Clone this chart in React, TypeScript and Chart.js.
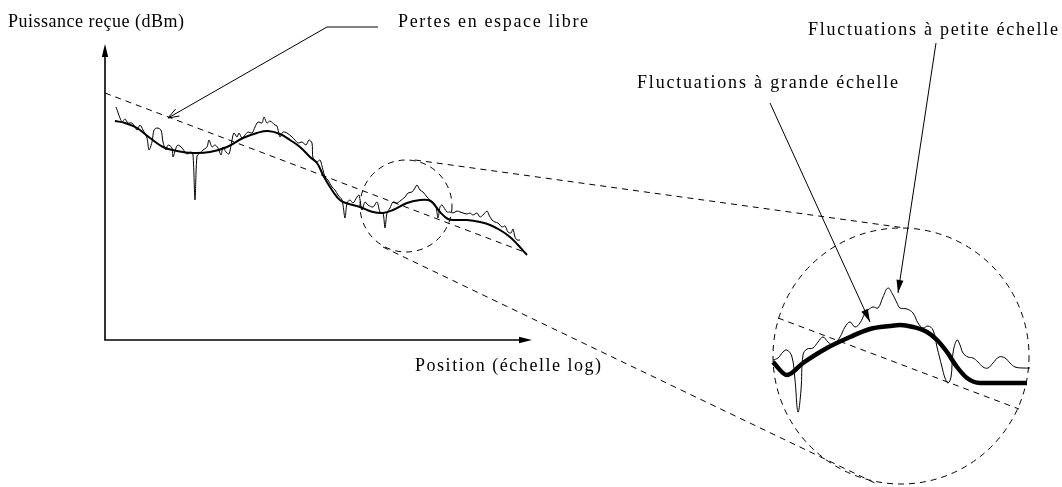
import React, { useEffect, useRef } from "react";
import { Chart, registerables } from "chart.js";

Chart.register(...registerables);

// ---- Main trace: position (log scale units) vs received power (dBm) ----
const fastPos = [2.75,4.25,5,5.75,6.75,7.5,8,8.75,9.5,10.5,11,11.75,12.25,13,14,14.5,15.25,15.75,16.75,17,17.75,18.25,19.25,20,20.5,21.5,22,22.5,23,23.75,24.5,25.5,26,26.75,27.5,28.25,29,29.5,30.25,31,31.75,32.25,33,33.5,34.25,35,35.75,36.75,37.5,38.25,39.25,39.75,40.5,41.25,42.5,43,43.75,44.5,45.5,46.75,47.5,48.25,49.25,50.25,51,51.75,52,53,53.75,54.5,55,55.75,56.75,57.5,58.25,59.25,60,60.5,61.25,62,63,63.5,64.25,65,65.75,67,68,68.75,69.5,70,70.5,71.25,72,73,73.75,75,75.75,76.75,77.5,78,78.75,79.5,80.5,81.25,82,82.75,83.25,83.75,84.25,85.5,86.25,87,88,88.75,89.5,90.5,91.25,92,93,93.75,94.5,95.5,96,96.75,97.5,98.25,99.25,100,100.75,101.5,102,102.5,103,103.75];
const fastPower = [-46.75,-50.5,-49.75,-50.75,-50.75,-51.75,-52.5,-51.25,-52.5,-54.5,-57.5,-55.5,-52.5,-52,-52.5,-55.5,-57.5,-56.25,-57,-59.25,-57,-56.25,-57,-58,-58.5,-58,-58.75,-70,-59,-58.25,-57.5,-56.75,-55,-56.75,-56.25,-57,-58.75,-56.75,-58,-58.5,-55,-53.25,-54.25,-53.25,-54.5,-53.75,-53,-53.25,-51.75,-50.5,-50.75,-49.25,-50.75,-50.25,-51.25,-51.5,-54.25,-53,-53.25,-54.25,-55,-55.75,-55.5,-56.25,-55,-55.75,-59.5,-60.5,-60,-62.5,-64.25,-65,-66.75,-67.5,-68.75,-70,-74.5,-70.75,-70,-70.75,-69.25,-68.75,-72.5,-70.5,-71.25,-71.75,-70.5,-73,-73.25,-77,-73.25,-72,-70.5,-70.75,-70.25,-69.25,-68.25,-68,-67,-66.25,-67.5,-68,-69.25,-70,-70.5,-71.75,-74.5,-71.75,-71.25,-73,-73,-73.25,-72.75,-73,-73.25,-73.5,-73.25,-73.75,-73.25,-74.25,-73.75,-72.75,-73.75,-75,-75.5,-75.75,-76.75,-76.5,-78,-78.25,-77.25,-79.25,-80,-80];

const slowPos = [2.5,5,8,11.25,14.5,18,22,26.25,30.5,34.5,38,40.75,43.75,46.25,48.75,51.25,53,54.5,56.25,58,59.5,63.75,67,69.5,72,75.5,78.75,80.75,82,83.75,85.75,87.5,90.5,93.75,96.25,98.75,101.25,103.25,105.5];
const slowPower = [-50.25,-50.75,-52,-54.5,-56.75,-57.75,-58.25,-58,-56.75,-54.5,-53.25,-52.75,-53.5,-55,-56.75,-59.25,-60.75,-63.75,-66.75,-69.25,-70.5,-71.75,-73,-73.25,-72.5,-70.75,-70,-70,-70.75,-73,-74.75,-75,-75,-75.5,-76.25,-77.5,-79.25,-81.25,-83.75];

const freeSpacePos = [0, 105.5];
const freeSpacePower = [-43.25, -83.25];

// ---- Zoomed view (inset) ----
const zoomFastPos = [0.25,1.5,2.75,3.75,5,5.75,6.5,7.25,7.75,8.75,10.25,11.5,12.75,14,15.25,17,18.25,19.5,20.75,22,23.25,24,25.25,26.5,27.75,29,30.25,31.25,32,33.75,35.25,36.5,37.75,39,40.25,41.25,42.5,43.25,44,44.75,45.25,46.25,47,47.75,49,50.25,51.5,52.75,54,55.25,56.75,58.25,59.5,60.75,62.75,64.5];
const zoomFastPower = [-110,-109.5,-108,-107.5,-109.25,-115,-123,-117.5,-108.75,-107.25,-107,-105.5,-104.25,-105.5,-106.25,-104.25,-101.75,-100.5,-101.75,-100.75,-98.25,-97.5,-96.75,-97,-94.25,-92,-93.75,-95.75,-97,-97.25,-98.25,-100.75,-102,-101.5,-102.5,-106.75,-111.75,-114.5,-115.75,-114.25,-108.25,-105,-106.25,-108.25,-109.25,-109.5,-110.5,-111.75,-112,-110.75,-109.25,-109.5,-110.75,-111.75,-112,-112];

const zoomSlowPos = [0.25,3.75,7.75,13.75,19.5,24.5,29.5,32,35.25,38.75,41.25,43.75,46.25,48.75,52,57,63.75];
const zoomSlowPower = [-110.5,-113.75,-110.75,-107,-104.25,-102.25,-101.5,-101.25,-101.75,-103,-105,-108,-111.75,-114.5,-115.75,-115.75,-115.75];

const zoomFreePos = [1.5, 61.75];
const zoomFreePower = [-99.5, -122.25];

// ---- Annotation geometry (in the same data units) ----
const axisOrigin = [0, -105];
const axisYTop = [0, -31];
const axisXEnd = [106.75, -105];
const mainLens = [75.25, -71.5, 11.5];
const zoomLens = [32.25, -109, 32];
const connectUpper = [[77.5, -60], [33.25, -77]];
const connectLower = [[69.5, -81.75], [26.25, -141]];
const leaderFreeSpace = [[68.25, -26.75], [55.5, -26.75], [15.75, -49.5]];
const leaderLarge = [[-0.5, -45.75], [24.5, -100.5]];
const leaderSmall = [[41, -30.75], [31.5, -93.25]];

// labels: text, scale ("main" | "zoom"), anchor, target width (px)
const labelTexts = [
  "Puissance reçue (dBm)",
  "Pertes en espace libre",
  "Position (échelle log)",
  "Fluctuations à grande échelle",
  "Fluctuations à petite échelle",
];
const labelScales = ["main", "main", "main", "zoom", "zoom"];
const labelAnchors = [[-24.25, -26.75], [73.25, -26.75], [77.5, -112.75], [-33.75, -42], [9, -28.75]];
const labelWidths = [176, 190, 186, 261, 250];

const pts = (xs: number[], ys: number[]) => xs.map((x, i) => ({ x, y: ys[i] }));

const decorPlugin = {
  id: "decor",
  afterDatasetsDraw(chart: any) {
    const ctx: CanvasRenderingContext2D = chart.ctx;
    const sx = chart.scales.x;
    const sx2 = chart.scales.x2;
    const sy = chart.scales.y;
    const M = (p: number[]) => [sx.getPixelForValue(p[0]), sy.getPixelForValue(p[1])];
    const Z = (p: number[]) => [sx2.getPixelForValue(p[0]), sy.getPixelForValue(p[1])];

    const line = (a: number[], b: number[]) => {
      ctx.beginPath();
      ctx.moveTo(a[0], a[1]);
      ctx.lineTo(b[0], b[1]);
      ctx.stroke();
    };
    const head = (from: number[], tip: number[], len: number, half: number, filled: boolean) => {
      const ang = Math.atan2(tip[1] - from[1], tip[0] - from[0]);
      const bx = tip[0] - len * Math.cos(ang);
      const by = tip[1] - len * Math.sin(ang);
      const px = -Math.sin(ang) * half;
      const py = Math.cos(ang) * half;
      ctx.beginPath();
      ctx.moveTo(bx + px, by + py);
      ctx.lineTo(tip[0], tip[1]);
      ctx.lineTo(bx - px, by - py);
      if (filled) {
        ctx.closePath();
        ctx.fill();
      } else {
        ctx.stroke();
      }
    };

    ctx.save();
    ctx.strokeStyle = "#000";
    ctx.fillStyle = "#000";
    ctx.lineCap = "butt";

    // axes
    const o = M(axisOrigin);
    const yt = M(axisYTop);
    const xe = M(axisXEnd);
    ctx.lineWidth = 1.6;
    line(o, [yt[0], yt[1] + 8]);
    line([o[0] - 0.8, o[1]], [xe[0] - 8, xe[1]]);
    head(o, yt, 13, 3.2, true);
    head(o, xe, 13, 3.2, true);

    // lenses (dashed circles) and connectors
    ctx.lineWidth = 1;
    ctx.setLineDash([6, 5]);
    const c1 = M(mainLens);
    const r1 = sx.getPixelForValue(mainLens[0] + mainLens[2]) - c1[0];
    ctx.beginPath();
    ctx.arc(c1[0], c1[1], r1, 0, Math.PI * 2);
    ctx.stroke();
    const c2 = Z(zoomLens);
    const r2 = sx2.getPixelForValue(zoomLens[0] + zoomLens[2]) - c2[0];
    ctx.beginPath();
    ctx.arc(c2[0], c2[1], r2, 0, Math.PI * 2);
    ctx.stroke();
    line(M(connectUpper[0]), Z(connectUpper[1]));
    line(M(connectLower[0]), Z(connectLower[1]));
    ctx.setLineDash([]);

    // leaders
    ctx.lineWidth = 1;
    const f0 = M(leaderFreeSpace[0]);
    const f1 = M(leaderFreeSpace[1]);
    const f2 = M(leaderFreeSpace[2]);
    ctx.beginPath();
    ctx.moveTo(f0[0], f0[1]);
    ctx.lineTo(f1[0], f1[1]);
    ctx.lineTo(f2[0], f2[1]);
    ctx.stroke();
    head(f1, f2, 11, 4, false);

    const g0 = Z(leaderLarge[0]);
    const g1 = Z(leaderLarge[1]);
    line(g0, g1);
    head(g0, g1, 13, 3.5, true);
    const s0 = Z(leaderSmall[0]);
    const s1 = Z(leaderSmall[1]);
    line(s0, s1);
    head(s0, s1, 13, 3.5, true);

    // labels
    ctx.font = '18px "Liberation Serif", "Times New Roman", serif';
    ctx.textBaseline = "alphabetic";
    ctx.textAlign = "left";
    labelTexts.forEach((t, i) => {
      const p = labelScales[i] === "main" ? M(labelAnchors[i]) : Z(labelAnchors[i]);
      const anyCtx = ctx as any;
      anyCtx.letterSpacing = "0px";
      const w = ctx.measureText(t).width;
      const extra = Math.max(0, (labelWidths[i] - w) / Math.max(1, t.length - 1));
      if ("letterSpacing" in anyCtx) {
        anyCtx.letterSpacing = extra.toFixed(2) + "px";
        ctx.fillText(t, p[0], p[1]);
        anyCtx.letterSpacing = "0px";
      } else {
        ctx.save();
        ctx.translate(p[0], p[1]);
        ctx.scale(Math.max(1, labelWidths[i] / w), 1);
        ctx.fillText(t, 0, 0);
        ctx.restore();
      }
    });
    ctx.restore();
  },
};

export default function App() {
  const ref = useRef<HTMLCanvasElement>(null);
  useEffect(() => {
    if (!ref.current) return;
    const chart = new Chart(ref.current, {
      type: "line",
      data: {
        datasets: [
          {
            label: "Pertes en espace libre",
            data: pts(freeSpacePos, freeSpacePower),
            borderColor: "#000",
            borderWidth: 1,
            borderDash: [6, 5],
            pointRadius: 0,
            tension: 0,
            xAxisID: "x",
            yAxisID: "y",
          },
          {
            label: "Fluctuations à petite échelle",
            data: pts(fastPos, fastPower),
            borderColor: "#000",
            borderWidth: 1,
            pointRadius: 0,
            tension: 0.3,
            xAxisID: "x",
            yAxisID: "y",
          },
          {
            label: "Fluctuations à grande échelle",
            data: pts(slowPos, slowPower),
            borderColor: "#000",
            borderWidth: 2,
            pointRadius: 0,
            tension: 0.4,
            xAxisID: "x",
            yAxisID: "y",
          },
          {
            label: "Pertes (zoom)",
            data: pts(zoomFreePos, zoomFreePower),
            borderColor: "#000",
            borderWidth: 1,
            borderDash: [6, 5],
            pointRadius: 0,
            tension: 0,
            xAxisID: "x2",
            yAxisID: "y",
          },
          {
            label: "Petite échelle (zoom)",
            data: pts(zoomFastPos, zoomFastPower),
            borderColor: "#000",
            borderWidth: 1,
            pointRadius: 0,
            tension: 0.4,
            xAxisID: "x2",
            yAxisID: "y",
          },
          {
            label: "Grande échelle (zoom)",
            data: pts(zoomSlowPos, zoomSlowPower),
            borderColor: "#000",
            borderWidth: 4.5,
            pointRadius: 0,
            cubicInterpolationMode: "monotone",
            xAxisID: "x2",
            yAxisID: "y",
          },
        ],
      },
      options: {
        responsive: false,
        animation: false,
        devicePixelRatio: 1,
        events: [],
        layout: { padding: 0 },
        plugins: { legend: { display: false }, tooltip: { enabled: false }, title: { display: false } },
        scales: {
          x: { type: "linear", display: false, min: -26.25, max: 239.25 },
          x2: { type: "linear", display: false, min: -193, max: 72.5 },
          y: { type: "linear", display: false, min: -141.75, max: -20 },
        },
      },
      plugins: [decorPlugin],
    } as any);
    return () => chart.destroy();
  }, []);
  return (
    <div style={{ position: "absolute", left: 0, top: 0, width: 1062, height: 487, background: "#fff" }}>
      <canvas ref={ref} width={1062} height={487} style={{ display: "block", width: 1062, height: 487 }} />
    </div>
  );
}
